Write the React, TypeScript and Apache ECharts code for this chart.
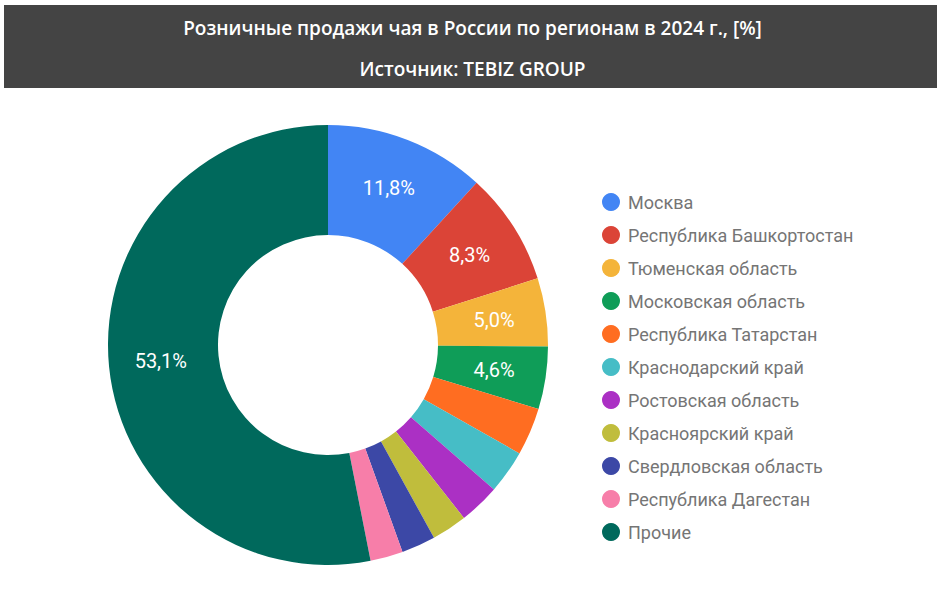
import React, { useEffect, useRef } from 'react';
import * as echarts from 'echarts';

// Regions and their share of retail tea sales, %
const regions: string[] = [
  'Москва',
  'Республика Башкортостан',
  'Тюменская область',
  'Московская область',
  'Республика Татарстан',
  'Краснодарский край',
  'Ростовская область',
  'Красноярский край',
  'Свердловская область',
  'Республика Дагестан',
  'Прочие',
];
const shares: number[] = [11.8, 8.3, 5.0, 4.6, 3.5, 3.2, 3.0, 2.6, 2.5, 2.4, 53.1];
const colors: string[] = [
  '#4285f4', '#db4437', '#f4b43a', '#0f9d58', '#ff6d21', '#46bdc6',
  '#ab30c4', '#c0bd3c', '#3c48a6', '#f77ea9', '#00695c',
];

const titleText = 'Розничные продажи чая в России по регионам в 2024 г., [%]';
const sourceText = 'Источник: TEBIZ GROUP';

const App: React.FC = () => {
  const chartRef = useRef<HTMLDivElement>(null);

  useEffect(() => {
    if (!chartRef.current) return;
    const chart = echarts.init(chartRef.current, null, { renderer: 'svg' });

    const titleStyle = { color: '#ffffff', fontSize: 19, fontWeight: 600, fontFamily: 'Open Sans' };

    const option = {
      animation: false,
      backgroundColor: '#ffffff',
      color: colors,
      graphic: [
        {
          type: 'rect',
          shape: { x: 4, y: 5, width: 933, height: 83 },
          style: { fill: '#444444' },
          z: 0,
        },
      ],
      title: [
        { text: titleText, left: 'center', top: 13, textStyle: titleStyle },
        { text: sourceText, left: 'center', top: 54, textStyle: titleStyle },
      ],
      legend: {
        orient: 'vertical',
        left: 597,
        top: 188,
        icon: 'circle',
        itemWidth: 18,
        itemHeight: 18,
        itemGap: 15,
        textStyle: { color: '#757575', fontSize: 18, fontFamily: 'Roboto', padding: [0, 0, 0, 3] },
        data: regions,
      },
      series: [
        {
          type: 'pie',
          center: [328, 345],
          radius: [110, 220],
          startAngle: 90,
          clockwise: true,
          avoidLabelOverlap: false,
          itemStyle: { borderWidth: 0 },
          label: {
            show: true,
            position: 'inside',
            color: '#ffffff',
            fontSize: 20,
            fontFamily: 'Roboto',
            formatter: (p: any) =>
              p.value >= 4 ? p.value.toFixed(1).replace('.', ',') + '%' : '',
          },
          labelLine: { show: false },
          data: regions.map((name, i) => ({ name, value: shares[i] })),
        },
      ],
    } as any;

    chart.setOption(option);

    return () => {
      chart.dispose();
    };
  }, []);

  return (
    <div
      ref={chartRef}
      style={{ position: 'fixed', left: 0, top: 0, width: 945, height: 612 }}
    />
  );
};

export default App;
